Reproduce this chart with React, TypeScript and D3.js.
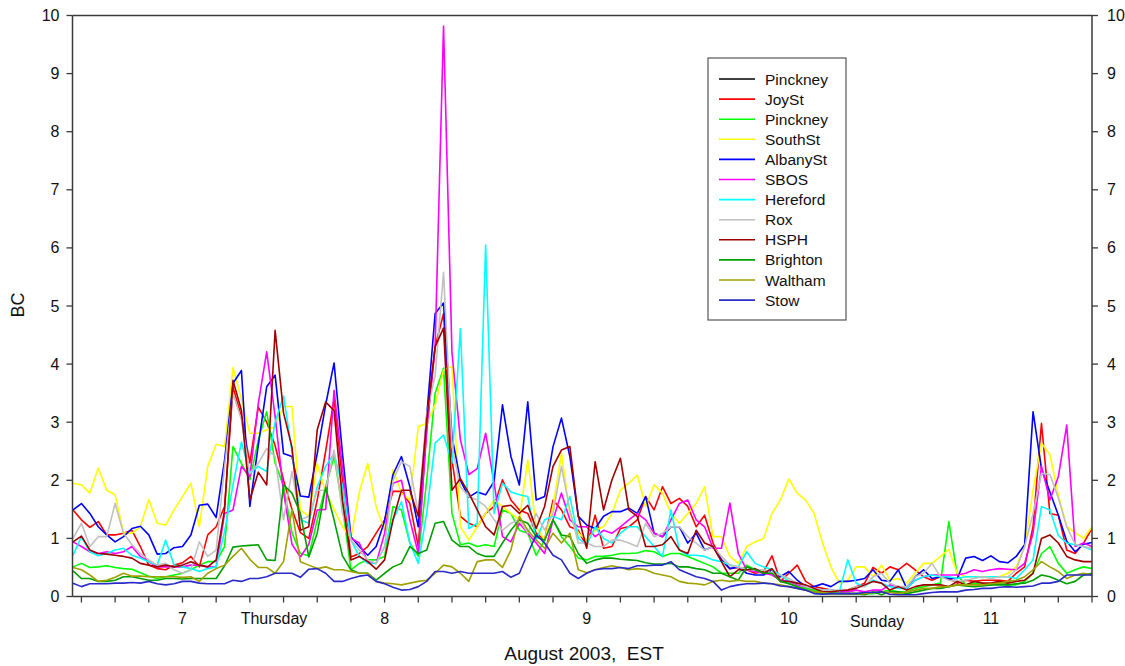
import React from "react";
import * as d3 from "d3";

// Hourly samples, first at Aug 6 11:00 EST, last at Aug 11 12:00 EST
const START_DAY = 6 + 11 / 24;
const END_DAY = 11.5;

const seriesNames = ["Pinckney", "JoySt", "Pinckney", "SouthSt", "AlbanySt", "SBOS", "Hereford", "Rox", "HSPH", "Brighton", "Waltham", "Stow"];
const seriesColors = ["#000000", "#ff0000", "#00ff00", "#ffff00", "#0000ff", "#ff00ff", "#00ffff", "#c0c0c0", "#a00000", "#00a000", "#a0a000", "#2a2ac8"];

const pinckneyBlack: number[] = [];
const joySt = [
  1.49, 1.32, 1.19, 1.29, 1.06, 1.06, 1.09, 1.14, 0.86, 0.54, 0.48, 0.46, 0.54, 0.58, 0.69, 0.51, 1.06, 1.2, 1.55, 3.6, 3.1, 2.3, 3.26, 3.0, 2.6,
  2.0, 1.5, 1.1, 1.0, 1.66, 2.5, 3.4, 2.0, 0.68, 0.74, 0.86, 1.09, 1.32, 1.81, 1.81, 1.6, 0.86, 2.87, 4.3, 4.87, 2.35, 1.38, 1.26, 1.2,
  1.43, 1.55, 2.01, 1.66, 1.49, 1.43, 1.09, 0.97, 1.66, 1.49, 1.2, 1.14, 0.86, 1.4, 0.83, 0.86, 1.17, 1.2, 1.32, 1.72, 1.49, 1.89, 1.6, 1.69,
  1.55, 1.2, 1.4, 0.92, 0.63, 0.48, 0.5, 0.46, 0.4, 0.43, 0.7, 0.26, 0.4, 0.54, 0.26, 0.17, 0.14, 0.11, 0.08, 0.11, 0.17, 0.23, 0.5, 0.4,
  0.51, 0.46, 0.57, 0.46, 0.34, 0.28, 0.34, 0.31, 0.23, 0.28, 0.26, 0.28, 0.28, 0.28, 0.26, 0.4, 0.51, 1.2, 2.98, 1.43, 1.4, 0.8, 0.74, 0.92, 1.17,
];
const pinckneyGreen = [
  0.51, 0.57, 0.5, 0.51, 0.53, 0.5, 0.48, 0.47, 0.41, 0.35, 0.31, 0.34, 0.37, 0.4, 0.46, 0.54, 0.6, 0.6, 0.86, 2.58, 2.29, 2.01, 2.69, 3.18,
  2.3, 1.9, 1.1, 0.74, 0.7, 1.32, 1.89, 2.41, 1.55, 0.46, 0.57, 0.63, 0.63, 0.69, 1.55, 1.49, 0.92, 0.69, 2.0, 3.5, 3.93, 1.43, 0.89, 0.92, 0.86,
  0.89, 0.86, 1.49, 1.43, 1.14, 1.09, 0.71, 0.97, 1.32, 1.03, 0.86, 0.66, 0.63, 0.69, 0.69, 0.71, 0.74, 0.74, 0.75, 0.79, 0.77, 0.69, 0.74, 0.74,
  0.69, 0.63, 0.57, 0.51, 0.4, 0.4, 0.4, 0.54, 0.46, 0.46, 0.4, 0.28, 0.23, 0.17, 0.14, 0.11, 0.08, 0.08, 0.05, 0.05, 0.05, 0.05, 0.05, 0.08,
  0.11, 0.08, 0.08, 0.14, 0.17, 0.2, 0.23, 1.29, 0.37, 0.2, 0.23, 0.2, 0.2, 0.23, 0.2, 0.2, 0.26, 0.4, 0.74, 0.86, 0.57, 0.4, 0.46, 0.51, 0.48,
];
const southSt = [
  1.95, 1.92, 1.78, 2.21, 1.83, 1.75, 1.09, 1.09, 1.2, 1.67, 1.26, 1.23, 1.49, 1.72, 1.95, 1.2, 2.24, 2.62, 2.58, 3.94, 3.4, 2.81, 2.81, 2.87, 2.92,
  3.27, 3.27, 1.49, 1.38, 2.29, 1.8, 1.5, 1.2, 1.0, 1.8, 2.29, 1.54, 1.14, 2.18, 1.78, 1.66, 2.92, 2.98, 3.3, 3.9, 3.96, 1.2, 0.97, 1.2,
  1.43, 1.66, 1.55, 1.43, 1.32, 2.35, 1.2, 0.97, 1.55, 2.46, 1.43, 1.09, 0.97, 1.14, 1.2, 1.43, 1.83, 1.95, 2.09, 1.55, 1.92, 1.78, 1.43, 1.26,
  1.43, 1.6, 1.89, 1.03, 1.03, 0.69, 0.57, 0.86, 0.94, 1.0, 1.43, 1.66, 2.02, 1.78, 1.66, 1.43, 0.92, 0.51, 0.23, 0.28, 0.51, 0.51, 0.34, 0.54,
  0.28, 0.31, 0.23, 0.4, 0.57, 0.57, 0.69, 0.81, 0.4, 0.34, 0.34, 0.34, 0.34, 0.34, 0.4, 0.51, 0.86, 1.83, 2.64, 2.44, 1.75, 1.2, 1.1, 1.0, 1.2,
];
const albanySt = [
  1.49, 1.6, 1.43, 1.2, 1.06, 0.94, 1.03, 1.17, 1.21, 1.06, 0.73, 0.74, 0.84, 0.86, 1.06, 1.57, 1.59, 1.36, 2.35, 3.67, 3.89, 1.55, 2.6, 3.61, 3.81,
  2.46, 2.41, 1.73, 1.71, 2.46, 3.3, 4.02, 2.46, 1.03, 0.86, 0.71, 0.86, 1.3, 2.1, 2.41, 1.89, 1.2, 3.1, 4.87, 5.05, 2.75, 2.0, 1.71, 1.8,
  1.75, 1.98, 3.3, 2.41, 1.92, 3.35, 1.66, 1.72, 2.58, 3.07, 2.41, 1.38, 1.23, 1.17, 1.38, 1.46, 1.46, 1.52, 1.43, 1.72, 1.09, 1.03, 1.2, 1.2,
  0.92, 1.09, 0.8, 0.86, 0.63, 0.48, 0.51, 0.4, 0.37, 0.37, 0.46, 0.34, 0.43, 0.28, 0.17, 0.17, 0.22, 0.17, 0.26, 0.26, 0.28, 0.31, 0.46, 0.28,
  0.26, 0.46, 0.14, 0.34, 0.46, 0.31, 0.34, 0.31, 0.31, 0.66, 0.69, 0.62, 0.7, 0.6, 0.58, 0.69, 0.89, 3.18, 2.2, 1.8, 1.4, 0.95, 0.77, 0.9, 0.93,
];
const sbos = [
  0.94, 0.86, 0.77, 0.74, 0.77, 0.74, 0.77, 0.86, 0.69, 0.6, 0.51, 0.51, 0.51, 0.51, 0.54, 0.54, 0.51, 0.51, 1.43, 1.49, 2.24, 2.06, 3.32, 4.21, 3.1,
  1.8, 0.9, 0.68, 0.9, 1.49, 1.5, 3.55, 2.2, 1.0, 0.92, 0.6, 0.57, 1.09, 1.95, 2.0, 1.32, 0.74, 2.87, 4.3, 9.82, 4.2, 2.7, 2.1, 2.2,
  2.81, 1.95, 1.03, 0.94, 1.26, 1.09, 0.92, 0.74, 1.32, 1.78, 1.32, 1.2, 1.2, 1.03, 1.14, 1.09, 1.2, 1.32, 1.43, 1.32, 1.09, 1.03, 1.32, 1.6,
  1.66, 1.32, 1.2, 0.83, 0.83, 1.61, 0.74, 0.46, 0.43, 0.4, 0.37, 0.28, 0.26, 0.2, 0.17, 0.14, 0.11, 0.11, 0.08, 0.08, 0.11, 0.08, 0.11, 0.11,
  0.2, 0.17, 0.14, 0.28, 0.34, 0.37, 0.37, 0.37, 0.37, 0.4, 0.46, 0.43, 0.46, 0.48, 0.47, 0.46, 0.57, 1.09, 2.24, 1.66, 2.06, 2.95, 0.86, 0.92, 0.86,
];
const hereford = [
  0.71, 1.03, 0.77, 0.7, 0.74, 0.8, 0.83, 0.71, 0.66, 0.6, 0.54, 0.97, 0.54, 0.51, 0.48, 0.43, 0.48, 0.51, 1.12, 1.92, 2.66, 2.12, 2.24, 2.15, 3.0,
  3.45, 2.5, 1.32, 1.26, 1.89, 2.24, 2.46, 1.9, 0.97, 0.69, 0.57, 0.57, 0.86, 1.32, 1.63, 0.92, 0.57, 1.43, 2.64, 2.78, 2.3, 4.61, 1.17, 1.26,
  6.05, 1.43, 1.95, 1.8, 1.75, 1.72, 0.97, 1.32, 1.38, 1.32, 1.72, 1.0, 0.89, 1.2, 1.0, 0.92, 1.09, 1.2, 1.2, 1.03, 0.86, 0.69, 1.49, 0.8,
  0.71, 0.71, 0.69, 0.63, 0.6, 0.54, 0.51, 0.77, 0.57, 0.51, 0.46, 0.37, 0.26, 0.23, 0.18, 0.14, 0.11, 0.11, 0.08, 0.63, 0.23, 0.17, 0.28, 0.23,
  0.17, 0.14, 0.14, 0.28, 0.34, 0.37, 0.34, 0.34, 0.31, 0.34, 0.34, 0.33, 0.34, 0.34, 0.34, 0.31, 0.46, 0.63, 1.55, 1.49, 1.05, 0.92, 0.89, 0.86, 0.8,
];
const rox = [
  1.0, 1.26, 0.86, 1.03, 1.03, 1.6, 1.09, 0.89, 0.74, 0.63, 0.54, 0.57, 0.46, 0.4, 0.46, 0.94, 0.69, 0.8, 2.24, 3.5, 3.04, 2.12, 2.29, 2.55, 2.41,
  1.32, 2.15, 1.32, 1.38, 1.83, 1.83, 2.52, 1.43, 0.97, 0.8, 0.63, 0.57, 0.86, 2.0, 2.32, 2.24, 1.43, 3.15, 3.8, 5.58, 2.58, 1.89, 1.72, 1.66,
  1.55, 1.32, 1.14, 1.26, 1.32, 1.09, 1.43, 1.14, 1.43, 2.24, 1.49, 0.92, 0.92, 0.86, 0.86, 0.97, 0.97, 0.92, 0.86, 1.26, 1.03, 1.09, 1.2, 1.2,
  1.03, 0.92, 0.8, 0.86, 0.69, 0.54, 0.51, 0.46, 0.46, 0.46, 0.4, 0.37, 0.31, 0.23, 0.17, 0.14, 0.11, 0.11, 0.11, 0.11, 0.17, 0.17, 0.34, 0.4,
  0.23, 0.17, 0.17, 0.34, 0.4, 0.57, 0.34, 0.28, 0.26, 0.28, 0.31, 0.34, 0.31, 0.34, 0.34, 0.46, 0.86, 1.43, 2.12, 2.1, 1.7, 1.2, 0.9, 0.86, 0.83,
];
const hsph = [
  0.94, 1.04, 0.8, 0.74, 0.73, 0.71, 0.69, 0.66, 0.57, 0.54, 0.51, 0.54, 0.51, 0.54, 0.6, 0.54, 0.51, 0.63, 1.49, 3.72, 3.2, 1.66, 2.14, 1.92, 4.58,
  3.16, 2.57, 1.14, 1.2, 2.87, 3.35, 3.2, 1.66, 0.63, 0.69, 0.6, 0.47, 0.63, 1.32, 1.83, 1.83, 1.38, 3.04, 4.3, 4.62, 1.83, 2.03, 1.78, 1.49,
  1.2, 1.06, 1.55, 1.57, 1.43, 1.57, 1.17, 1.55, 2.24, 2.52, 2.58, 1.38, 0.83, 2.32, 1.49, 2.01, 2.38, 1.49, 1.38, 0.86, 0.86, 0.89, 1.03, 0.8,
  0.74, 1.14, 0.92, 0.86, 0.6, 0.34, 0.46, 0.46, 0.48, 0.4, 0.48, 0.26, 0.26, 0.23, 0.2, 0.14, 0.08, 0.08, 0.1, 0.11, 0.14, 0.2, 0.26, 0.23,
  0.11, 0.17, 0.11, 0.17, 0.2, 0.2, 0.2, 0.17, 0.26, 0.2, 0.26, 0.23, 0.23, 0.26, 0.23, 0.26, 0.28, 0.4, 1.0, 1.06, 0.92, 0.69, 0.63, 0.6, 0.6,
];
const brighton = [
  0.44, 0.31, 0.31, 0.26, 0.26, 0.28, 0.34, 0.34, 0.31, 0.28, 0.28, 0.31, 0.31, 0.3, 0.31, 0.31, 0.31, 0.31, 0.53, 0.85, 0.87, 0.88, 0.89, 0.63, 0.62,
  1.92, 1.78, 1.43, 0.68, 1.09, 1.88, 1.32, 0.7, 0.46, 0.4, 0.4, 0.28, 0.4, 0.51, 0.57, 0.86, 0.74, 0.8, 1.26, 1.29, 0.97, 0.86, 0.86, 0.74,
  0.69, 0.69, 0.92, 1.14, 1.32, 1.26, 1.03, 0.97, 1.32, 1.06, 1.03, 0.74, 0.57, 0.63, 0.66, 0.66, 0.64, 0.63, 0.62, 0.58, 0.56, 0.56, 0.57, 0.51,
  0.51, 0.48, 0.46, 0.4, 0.4, 0.34, 0.28, 0.51, 0.46, 0.4, 0.4, 0.26, 0.22, 0.17, 0.11, 0.08, 0.05, 0.05, 0.05, 0.05, 0.05, 0.03, 0.08, 0.03,
  0.08, 0.08, 0.05, 0.08, 0.11, 0.14, 0.14, 0.17, 0.2, 0.18, 0.17, 0.18, 0.2, 0.2, 0.2, 0.22, 0.23, 0.28, 0.37, 0.34, 0.28, 0.22, 0.26, 0.37, 0.4,
];
const waltham = [
  0.5, 0.46, 0.37, 0.26, 0.28, 0.33, 0.4, 0.35, 0.35, 0.34, 0.34, 0.34, 0.34, 0.33, 0.34, 0.26, 0.4, 0.48, 0.54, 0.69, 0.83, 0.64, 0.5, 0.5, 0.4,
  0.6, 1.5, 0.6, 0.54, 0.48, 0.51, 0.46, 0.46, 0.43, 0.4, 0.4, 0.26, 0.23, 0.22, 0.2, 0.23, 0.26, 0.28, 0.4, 0.54, 0.51, 0.4, 0.26, 0.6,
  0.63, 0.63, 0.5, 0.8, 1.38, 1.14, 0.97, 0.83, 1.09, 0.92, 1.09, 0.46, 0.41, 0.46, 0.5, 0.53, 0.5, 0.46, 0.48, 0.46, 0.4, 0.37, 0.34, 0.26,
  0.23, 0.22, 0.2, 0.26, 0.28, 0.26, 0.28, 0.26, 0.26, 0.23, 0.22, 0.2, 0.17, 0.14, 0.11, 0.08, 0.07, 0.05, 0.05, 0.05, 0.05, 0.05, 0.07, 0.08,
  0.07, 0.05, 0.08, 0.11, 0.14, 0.14, 0.17, 0.17, 0.2, 0.2, 0.2, 0.2, 0.22, 0.23, 0.26, 0.28, 0.34, 0.46, 0.6, 0.51, 0.43, 0.31, 0.37, 0.4, 0.37,
];
const stow = [
  0.23, 0.17, 0.22, 0.22, 0.22, 0.23, 0.23, 0.24, 0.23, 0.26, 0.22, 0.2, 0.22, 0.26, 0.26, 0.23, 0.22, 0.22, 0.22, 0.28, 0.26, 0.31, 0.31, 0.34, 0.4,
  0.4, 0.4, 0.33, 0.47, 0.48, 0.4, 0.26, 0.26, 0.31, 0.35, 0.37, 0.26, 0.22, 0.16, 0.11, 0.12, 0.17, 0.26, 0.43, 0.43, 0.4, 0.43, 0.4, 0.4,
  0.4, 0.4, 0.43, 0.33, 0.4, 0.74, 1.06, 0.92, 0.71, 0.63, 0.4, 0.31, 0.4, 0.46, 0.48, 0.48, 0.5, 0.48, 0.53, 0.53, 0.54, 0.54, 0.6, 0.46,
  0.4, 0.34, 0.31, 0.26, 0.11, 0.17, 0.2, 0.22, 0.22, 0.23, 0.22, 0.18, 0.17, 0.14, 0.11, 0.05, 0.04, 0.05, 0.05, 0.05, 0.05, 0.07, 0.07, 0.08,
  0.04, 0.03, 0.03, 0.03, 0.05, 0.07, 0.08, 0.08, 0.08, 0.11, 0.12, 0.14, 0.14, 0.16, 0.17, 0.16, 0.17, 0.18, 0.23, 0.23, 0.26, 0.37, 0.37, 0.37, 0.37,
];

const seriesValues = [pinckneyBlack, joySt, pinckneyGreen, southSt, albanySt, sbos, hereford, rox, hsph, brighton, waltham, stow];

const dayTicks = [7, 8, 9, 10, 11];
const weekdayNames = ["Thursday", "Sunday"];
const weekdayAt = [7.453, 10.437];
const yTicks = [0, 1, 2, 3, 4, 5, 6, 7, 8, 9, 10];
const xTitle = "August 2003,  EST";
const yTitle = "BC";

const W = 1125;
const H = 666;
const L = 72.5, R = 1092, T = 15.5, B = 596.5;
const FONT = "'Liberation Sans', Arial, Helvetica, sans-serif";
const AXIS = "#3a3a3a";

export default function App() {
  const x = d3.scaleLinear().domain([START_DAY, END_DAY]).range([L + 0.5, R]);
  const y = d3.scaleLinear().domain([0, 10]).range([B, T]);
  const minorTicks = d3.range(6.5, END_DAY + 1e-6, 1 / 6);
  const line = d3
    .line<number>()
    .x((_, i) => x(START_DAY + i / 24))
    .y((d) => y(d));

  const legX = 708, legY = 58, legW = 138, legH = 262, rowH = 20.1;

  return (
    <div style={{ position: "absolute", left: 0, top: 0 }}>
      <svg width={W} height={H} style={{ display: "block", background: "#fff" }} fontFamily={FONT}>
        <defs>
          <clipPath id="plot">
            <rect x={L} y={T - 2} width={R - L} height={B - T + 2} />
          </clipPath>
        </defs>
        <g clipPath="url(#plot)">
          {seriesValues.map((vals, k) =>
            vals.length ? (
              <path key={k} d={line(vals) || ""} fill="none" stroke={seriesColors[k]} strokeWidth={1.6} strokeLinejoin="round" />
            ) : null
          )}
        </g>
        {/* frame */}
        <line x1={L} x2={R} y1={T} y2={T} stroke={AXIS} strokeWidth={1.5} />
        <line x1={L} x2={R} y1={B} y2={B} stroke={AXIS} strokeWidth={1.5} />
        <line x1={L} x2={L} y1={T} y2={B} stroke={AXIS} strokeWidth={1.5} />
        <line x1={R} x2={R} y1={T} y2={B} stroke={AXIS} strokeWidth={1.5} />
        {/* y ticks */}
        {yTicks.map((t) => (
          <g key={t}>
            <line x1={L - 6} x2={L} y1={y(t)} y2={y(t)} stroke={AXIS} strokeWidth={1.3} />
            <line x1={R} x2={R + 6} y1={y(t)} y2={y(t)} stroke={AXIS} strokeWidth={1.3} />
            <text x={L - 13} y={y(t) + 5.5} fontSize={16} textAnchor="end" fill="#111">{t}</text>
            <text x={R + 15} y={y(t) + 5.5} fontSize={16} textAnchor="start" fill="#111">{t}</text>
          </g>
        ))}
        {/* x ticks */}
        {minorTicks.map((t, i) => (
          <line key={i} x1={x(t)} x2={x(t)} y1={B} y2={B + 6} stroke={AXIS} strokeWidth={1.3} />
        ))}
        {dayTicks.map((d) => (
          <text key={d} x={x(d)} y={624} fontSize={16} textAnchor="middle" fill="#111">{d}</text>
        ))}
        {weekdayNames.map((n, i) => (
          <text key={n} x={x(weekdayAt[i])} y={i === 0 ? 624 : 627} fontSize={16} textAnchor="middle" fill="#111">{n}</text>
        ))}
        <text x={584} y={660} fontSize={19} textAnchor="middle" fill="#111" style={{ whiteSpace: "pre" }}>{xTitle}</text>
        <text transform={`translate(24,305) rotate(-90)`} fontSize={18} textAnchor="middle" fill="#111">{yTitle}</text>
        {/* legend */}
        <rect x={legX} y={legY} width={legW} height={legH} fill="#fff" stroke="#555" strokeWidth={1.2} />
        {seriesNames.map((n, k) => {
          const yy = legY + 21 + k * rowH;
          return (
            <g key={k}>
              <line x1={legX + 11} x2={legX + 47} y1={yy} y2={yy} stroke={seriesColors[k]} strokeWidth={1.6} />
              <text x={legX + 57} y={yy + 5.5} fontSize={15.5} fill="#111">{n}</text>
            </g>
          );
        })}
      </svg>
    </div>
  );
}
